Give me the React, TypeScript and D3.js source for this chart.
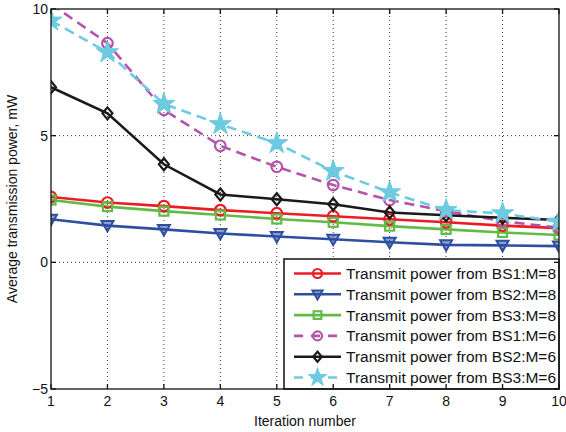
import React, { useEffect, useRef } from 'react';
import * as d3 from 'd3';

const iterations = [1, 2, 3, 4, 5, 6, 7, 8, 9, 10];
const bs1M8 = [2.58, 2.36, 2.22, 2.06, 1.94, 1.82, 1.70, 1.58, 1.45, 1.35];
const bs2M8 = [1.70, 1.45, 1.30, 1.14, 1.02, 0.91, 0.79, 0.69, 0.67, 0.64];
const bs3M8 = [2.46, 2.20, 2.02, 1.87, 1.71, 1.58, 1.43, 1.30, 1.18, 1.08];
const bs1M6 = [10.2, 8.65, 6.02, 4.6, 3.77, 3.05, 2.46, 2.02, 1.62, 1.37];
const bs2M6 = [6.91, 5.88, 3.87, 2.68, 2.49, 2.29, 1.97, 1.86, 1.76, 1.67];
const bs3M6 = [9.54, 8.29, 6.25, 5.45, 4.7, 3.6, 2.76, 2.06, 1.93, 1.6];
const yTicks = [-5, 0, 5, 10];
const legendLabels = [
  'Transmit power from BS1:M=8',
  'Transmit power from BS2:M=8',
  'Transmit power from BS3:M=8',
  'Transmit power from BS1:M=6',
  'Transmit power from BS2:M=6',
  'Transmit power from BS3:M=6',
];

type Series = { values: number[]; color: string; dashed: boolean; marker: string };

const SERIES: Series[] = [
  { values: bs1M8, color: '#ec1c24', dashed: false, marker: 'circle' },
  { values: bs2M8, color: '#2e4fa0', dashed: false, marker: 'tri' },
  { values: bs3M8, color: '#62bb46', dashed: false, marker: 'square' },
  { values: bs1M6, color: '#b552aa', dashed: true, marker: 'circle' },
  { values: bs2M6, color: '#1a1a1a', dashed: false, marker: 'diamond' },
  { values: bs3M6, color: '#6ccbe0', dashed: true, marker: 'star' },
];

const W = 566;
const H = 432;
const M = { left: 51, right: 7, top: 9, bottom: 43 };
const FONT = 'Liberation Sans, Arial, sans-serif';

// s = marker scale (1 in the plot, smaller in the legend)
function drawMarker(g: any, kind: string, x: number, y: number, color: string, s = 1) {
  if (kind === 'circle') {
    g.append('circle').attr('cx', x).attr('cy', y).attr('r', 5.3 * s)
      .attr('fill', 'none').attr('stroke', color).attr('stroke-width', 2.2);
  } else if (kind === 'square') {
    g.append('rect').attr('x', x - 4.5 * s).attr('y', y - 4.5 * s).attr('width', 9 * s).attr('height', 9 * s)
      .attr('fill', 'none').attr('stroke', color).attr('stroke-width', 2.2);
  } else if (kind === 'tri') {
    g.append('path').attr('d', `M${x - 6 * s},${y - 4.5 * s}L${x + 6 * s},${y - 4.5 * s}L${x},${y + 6 * s}Z`)
      .attr('fill', color).attr('fill-opacity', 0.55).attr('stroke', color).attr('stroke-width', 2);
  } else if (kind === 'diamond') {
    g.append('path').attr('d', `M${x},${y - 6 * s}L${x + 5 * s},${y}L${x},${y + 6 * s}L${x - 5 * s},${y}Z`)
      .attr('fill', 'none').attr('stroke', color).attr('stroke-width', 2.2);
  } else if (kind === 'star') {
    g.append('path').attr('d', d3.symbol().type(d3.symbolStar).size(150 * s * s)()!)
      .attr('transform', `translate(${x},${y})`)
      .attr('fill', color).attr('stroke', color).attr('stroke-width', 1);
  }
}

const App = () => {
  const ref = useRef<SVGSVGElement>(null);

  useEffect(() => {
    const svg = d3.select(ref.current);
    svg.selectAll('*').remove();

    const x = d3.scaleLinear().domain([1, 10]).range([M.left, W - M.right]);
    const y = d3.scaleLinear().domain([-5, 10]).range([H - M.bottom, M.top]);
    const x0 = M.left, x1 = W - M.right, y0 = H - M.bottom, y1 = M.top;

    svg.append('rect').attr('width', W).attr('height', H).attr('fill', '#fff');

    svg.append('defs').append('clipPath').attr('id', 'clip')
      .append('rect').attr('x', x0).attr('y', y1).attr('width', x1 - x0).attr('height', y0 - y1);

    // grid
    const grid = svg.append('g').attr('stroke', '#333').attr('stroke-width', 1)
      .attr('stroke-dasharray', '1,3');
    iterations.slice(1, -1).forEach(v => {
      grid.append('line').attr('x1', x(v)).attr('x2', x(v)).attr('y1', y0).attr('y2', y1);
    });
    yTicks.slice(1, -1).forEach(v => {
      grid.append('line').attr('x1', x0).attr('x2', x1).attr('y1', y(v)).attr('y2', y(v));
    });

    // series
    const plot = svg.append('g').attr('clip-path', 'url(#clip)');
    const line = d3.line<number>().x((_, i) => x(iterations[i])).y(d => y(d));
    SERIES.forEach(s => {
      plot.append('path').attr('d', line(s.values)!)
        .attr('fill', 'none').attr('stroke', s.color).attr('stroke-width', 2.6)
        .attr('stroke-dasharray', s.dashed ? '10,6' : null);
    });
    SERIES.forEach(s => {
      const mg = plot.append('g');
      s.values.forEach((v, i) => drawMarker(mg, s.marker, x(iterations[i]), y(v), s.color));
    });

    // legend
    const lx = 284, ly = 259, lw = x1 - lx, lh = y0 - ly;
    const lg = svg.append('g');
    lg.append('rect').attr('x', lx).attr('y', ly).attr('width', lw).attr('height', lh)
      .attr('fill', '#fff').attr('stroke', '#111').attr('stroke-width', 1.5);
    SERIES.forEach((s, i) => {
      const cy = 273.5 + i * 20.8;
      lg.append('line').attr('x1', 294).attr('x2', 341).attr('y1', cy).attr('y2', cy)
        .attr('stroke', s.color).attr('stroke-width', 2.6)
        .attr('stroke-dasharray', s.dashed ? '9,8' : null);
      drawMarker(lg, s.marker, 317.5, cy, s.color, 0.85);
      lg.append('text').attr('x', 346).attr('y', cy + 5.5).text(legendLabels[i])
        .attr('font-family', FONT).attr('font-size', 15.5).attr('fill', '#111');
    });

    // axes box and ticks
    const ax = svg.append('g').attr('stroke', '#111').attr('stroke-width', 1.3);
    ax.append('rect').attr('x', x0).attr('y', y1).attr('width', x1 - x0).attr('height', y0 - y1)
      .attr('fill', 'none');
    iterations.forEach(v => {
      ax.append('line').attr('x1', x(v)).attr('x2', x(v)).attr('y1', y0).attr('y2', y0 - 5);
      ax.append('line').attr('x1', x(v)).attr('x2', x(v)).attr('y1', y1).attr('y2', y1 + 5);
    });
    yTicks.forEach(v => {
      ax.append('line').attr('x1', x0).attr('x2', x0 + 5).attr('y1', y(v)).attr('y2', y(v));
      ax.append('line').attr('x1', x1).attr('x2', x1 - 5).attr('y1', y(v)).attr('y2', y(v));
    });

    const labels = svg.append('g').attr('font-family', FONT).attr('font-size', 14).attr('fill', '#111');
    iterations.forEach(v => {
      labels.append('text').attr('x', x(v)).attr('y', y0 + 17).attr('text-anchor', 'middle').text(String(v));
    });
    yTicks.forEach(v => {
      labels.append('text').attr('x', x0 - 3).attr('y', y(v) + 5).attr('text-anchor', 'end')
        .text(v < 0 ? `\u2212${Math.abs(v)}` : String(v));
    });
    labels.append('text').attr('x', (x0 + x1) / 2).attr('y', 426).attr('text-anchor', 'middle')
      .text('Iteration number');
    labels.append('text').attr('transform', `translate(17,${(y0 + y1) / 2}) rotate(-90)`)
      .attr('text-anchor', 'middle').text('Average transmission power, mW');
  }, []);

  return <svg ref={ref} width={W} height={H} style={{ position: 'absolute', left: 0, top: 0 }} />;
};

export default App;
